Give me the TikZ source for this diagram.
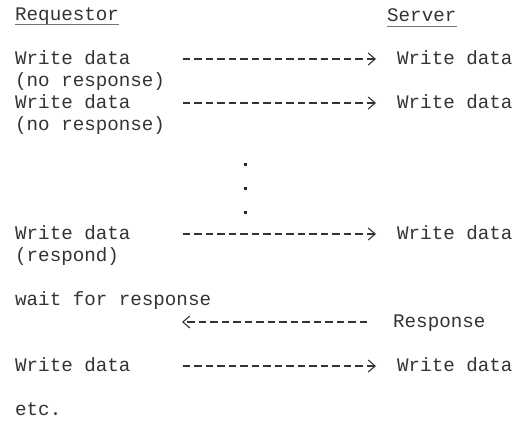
\documentclass[tikz,border=0pt]{standalone}
\usepackage{fontspec}
\newfontfamily\typewriter{Liberation Mono}
\usepackage{tikz}
\usetikzlibrary{arrows.meta}

\begin{document}
\begin{tikzpicture}[
    x=1pt, y=-1pt,
    line/.style={
        anchor=base west,
        inner sep=0pt,
        text=black!80,
        font=\typewriter\fontsize{19.2}{22}\selectfont
    },
    flow/.style={
        black!80,
        line width=1.1pt,
        dash pattern=on 7.5pt off 4pt,
        -{Straight Barb[length=7pt,width=12pt,line width=1.1pt]}
    },
    dotmark/.style={
        rectangle,
        fill=black!85,
        minimum size=3pt,
        inner sep=0pt
    }
    ]
    \useasboundingbox (0,0) rectangle (518,434);

    % headings
    \node[line] (req) at (15,20) {Requestor};
    \node[line] (srv) at (387,21) {Server};
    \draw[black!55, line width=0.6pt] ([yshift=-4pt]req.base west) -- ([yshift=-4pt]req.base east);
    \draw[black!55, line width=0.6pt] ([yshift=-5pt]srv.base west) -- ([yshift=-5pt]srv.base east);

    % requestor side
    \node[line] (w1) at (15,64) {Write data};
    \node[line] (n1) at (15,86) {(no response)};
    \node[line] (w2) at (15,108) {Write data};
    \node[line] (n2) at (15,130) {(no response)};
    \node[line] (w3) at (15,239) {Write data};
    \node[line] (r3) at (15,261) {(respond)};
    \node[line] (wait) at (15,305) {wait for response};
    \node[line] (w4) at (15,371) {Write data};
    \node[line] (etc) at (15,415) {etc.};

    % server side
    \node[line] (s1) at (397,64) {Write data};
    \node[line] (s2) at (397,108) {Write data};
    \node[line] (s3) at (397,239) {Write data};
    \node[line] (resp) at (393,327) {Response};
    \node[line] (s4) at (397,371) {Write data};
    \coordinate (back) at ([xshift=-211pt, yshift=5pt]resp.base west);

    % dots
    \node[dotmark] (d1) at (245,164) {};
    \node[dotmark] (d2) at (245,188) {};
    \node[dotmark] (d3) at (245,212) {};

    % messages
    \draw[flow, shorten <=52pt, shorten >=21pt] ([yshift=5pt]w1.base east) -- ([yshift=5pt]s1.base west);
    \draw[flow, shorten <=52pt, shorten >=21pt] ([yshift=5pt]w2.base east) -- ([yshift=5pt]s2.base west);
    \draw[flow, shorten <=52pt, shorten >=21pt] ([yshift=5pt]w3.base east) -- ([yshift=5pt]s3.base west);
    \draw[flow, shorten <=26pt] ([yshift=5pt]resp.base west) -- (back);
    \draw[flow, shorten <=52pt, shorten >=21pt] ([yshift=5pt]w4.base east) -- ([yshift=5pt]s4.base west);
\end{tikzpicture}
\end{document}
